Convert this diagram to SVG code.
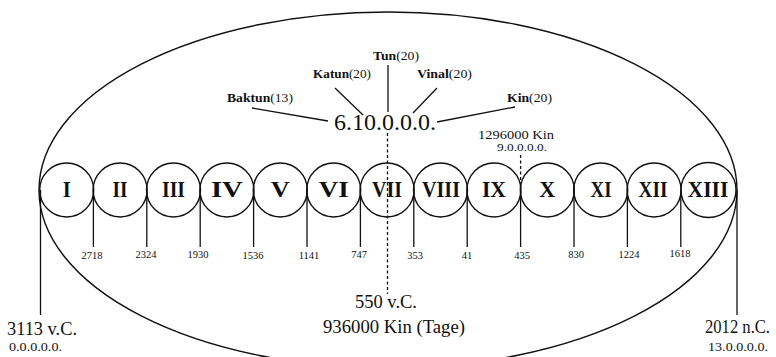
<svg xmlns="http://www.w3.org/2000/svg" width="776" height="357" viewBox="0 0 776 357">
<style>
  .ln{stroke:#111;stroke-width:1.3;fill:none}
  .dash{stroke:#111;stroke-width:1.3;fill:none;stroke-dasharray:3 2.5}
  .c{stroke:#111;stroke-width:1.4;fill:none}
  text{font-family:"Liberation Serif","Times New Roman",serif;fill:#111}
  .num{font-size:23px;font-weight:bold;text-anchor:middle}
  .tk{font-size:10.5px;text-anchor:middle}
  .big{font-size:18px}
  .sm{font-size:12px}
  .lab{font-size:12px}
  .b{font-weight:bold}
</style>
<rect width="776" height="357" fill="#fff"/>
<ellipse id="outer" cx="388" cy="190" rx="349" ry="178" class="c" stroke-width="1.5"/>

<g id="connectors">
  <line class="ln" x1="40.5" y1="190" x2="40.5" y2="315"/>
  <line class="ln" x1="737" y1="190" x2="737" y2="315"/>
  <line class="ln" x1="93.4" y1="190" x2="93.4" y2="247"/>
  <line class="ln" x1="146.8" y1="190" x2="146.8" y2="247"/>
  <line class="ln" x1="200.2" y1="190" x2="200.2" y2="247"/>
  <line class="ln" x1="253.6" y1="190" x2="253.6" y2="247"/>
  <line class="ln" x1="307" y1="190" x2="307" y2="247"/>
  <line class="ln" x1="360.4" y1="190" x2="360.4" y2="247"/>
  <line class="ln" x1="413.8" y1="190" x2="413.8" y2="247"/>
  <line class="ln" x1="467.2" y1="190" x2="467.2" y2="247"/>
  <line class="ln" x1="520.6" y1="190" x2="520.6" y2="247"/>
  <line class="ln" x1="574" y1="190" x2="574" y2="247"/>
  <line class="ln" x1="627.4" y1="190" x2="627.4" y2="247"/>
  <line class="ln" x1="680.8" y1="190" x2="680.8" y2="247"/>
  <line class="dash" x1="387.5" y1="133" x2="387.5" y2="294"/>
  <line class="dash" x1="520.6" y1="155" x2="520.6" y2="189"/>
  <line class="ln" x1="252" y1="108" x2="328" y2="121"/>
  <line class="ln" x1="335" y1="88" x2="363" y2="115"/>
  <line class="ln" x1="388" y1="65" x2="388" y2="112"/>
  <line class="ln" x1="437" y1="88" x2="413" y2="113"/>
  <line class="ln" x1="515" y1="107" x2="437" y2="122"/>
</g>

<g id="baktun-I"><circle class="c" cx="66.7" cy="190" r="27"/><text class="num" x="66.7" y="197" textLength="8" lengthAdjust="spacingAndGlyphs">I</text></g>
<g id="baktun-II"><circle class="c" cx="120.1" cy="190" r="27"/><text class="num" x="120.1" y="197" textLength="15" lengthAdjust="spacingAndGlyphs">II</text></g>
<g id="baktun-III"><circle class="c" cx="173.5" cy="190" r="27"/><text class="num" x="173.5" y="197" textLength="23" lengthAdjust="spacingAndGlyphs">III</text></g>
<g id="baktun-IV"><circle class="c" cx="226.9" cy="190" r="27"/><text class="num" x="226.9" y="197" textLength="32" lengthAdjust="spacingAndGlyphs">IV</text></g>
<g id="baktun-V"><circle class="c" cx="280.3" cy="190" r="27"/><text class="num" x="280.3" y="197" textLength="19" lengthAdjust="spacingAndGlyphs">V</text></g>
<g id="baktun-VI"><circle class="c" cx="333.7" cy="190" r="27"/><text class="num" x="333.7" y="197" textLength="30" lengthAdjust="spacingAndGlyphs">VI</text></g>
<g id="baktun-VII"><circle class="c" cx="387.1" cy="190" r="27"/><text class="num" x="387.1" y="197" textLength="30" lengthAdjust="spacingAndGlyphs">VII</text></g>
<g id="baktun-VIII"><circle class="c" cx="440.5" cy="190" r="27"/><text class="num" x="441" y="197" textLength="38" lengthAdjust="spacingAndGlyphs">VIII</text></g>
<g id="baktun-IX"><circle class="c" cx="493.9" cy="190" r="27"/><text class="num" x="493.9" y="197" textLength="24" lengthAdjust="spacingAndGlyphs">IX</text></g>
<g id="baktun-X"><circle class="c" cx="547.3" cy="190" r="27"/><text class="num" x="547.3" y="197" textLength="16" lengthAdjust="spacingAndGlyphs">X</text></g>
<g id="baktun-XI"><circle class="c" cx="600.7" cy="190" r="27"/><text class="num" x="601" y="197" textLength="21" lengthAdjust="spacingAndGlyphs">XI</text></g>
<g id="baktun-XII"><circle class="c" cx="654.1" cy="190" r="27"/><text class="num" x="653" y="197" textLength="29" lengthAdjust="spacingAndGlyphs">XII</text></g>
<g id="baktun-XIII"><circle class="c" cx="708.5" cy="190" r="27.5"/><text class="num" x="708" y="197" textLength="41" lengthAdjust="spacingAndGlyphs">XIII</text></g>

<g id="tick-labels">
  <text class="tk" x="92" y="259">2718</text>
  <text class="tk" x="146" y="258">2324</text>
  <text class="tk" x="198" y="258">1930</text>
  <text class="tk" x="253" y="259">1536</text>
  <text class="tk" x="309" y="259">1141</text>
  <text class="tk" x="359" y="258">747</text>
  <text class="tk" x="415" y="259">353</text>
  <text class="tk" x="467" y="259">41</text>
  <text class="tk" x="522" y="259">435</text>
  <text class="tk" x="576" y="258">830</text>
  <text class="tk" x="629" y="258">1224</text>
  <text class="tk" x="680" y="257">1618</text>
</g>

<g id="long-count">
  <text x="334" y="130" font-size="24" textLength="102" lengthAdjust="spacingAndGlyphs">6.10.0.0.0.</text>
  <text class="lab" x="227" y="102" textLength="66" lengthAdjust="spacingAndGlyphs"><tspan class="b">Baktun</tspan>(13)</text>
  <text class="lab" x="313" y="78" textLength="58" lengthAdjust="spacingAndGlyphs"><tspan class="b">Katun</tspan>(20)</text>
  <text class="lab" x="373" y="60" textLength="46" lengthAdjust="spacingAndGlyphs"><tspan class="b">Tun</tspan>(20)</text>
  <text class="lab" x="417" y="78" textLength="55" lengthAdjust="spacingAndGlyphs"><tspan class="b">Vinal</tspan>(20)</text>
  <text class="lab" x="507" y="102" textLength="45" lengthAdjust="spacingAndGlyphs"><tspan class="b">Kin</tspan>(20)</text>
</g>

<g id="marker-9">
  <text x="478" y="139" font-size="11.5" textLength="76" lengthAdjust="spacingAndGlyphs">1296000 Kin</text>
  <text x="497" y="151" font-size="11" textLength="50" lengthAdjust="spacingAndGlyphs">9.0.0.0.0.</text>
</g>

<g id="start">
  <text class="big" x="7" y="335" textLength="70" lengthAdjust="spacingAndGlyphs">3113 v.C.</text>
  <text class="sm" x="9" y="351" textLength="53" lengthAdjust="spacingAndGlyphs">0.0.0.0.0.</text>
</g>
<g id="middle">
  <text class="big" x="355" y="308" textLength="62" lengthAdjust="spacingAndGlyphs">550 v.C.</text>
  <text class="big" x="323" y="333" textLength="142" lengthAdjust="spacingAndGlyphs">936000 Kin (Tage)</text>
</g>
<g id="end">
  <text class="big" x="705" y="333" textLength="65" lengthAdjust="spacingAndGlyphs">2012 n.C.</text>
  <text class="sm" x="708" y="351" textLength="60" lengthAdjust="spacingAndGlyphs">13.0.0.0.0.</text>
</g>
</svg>
